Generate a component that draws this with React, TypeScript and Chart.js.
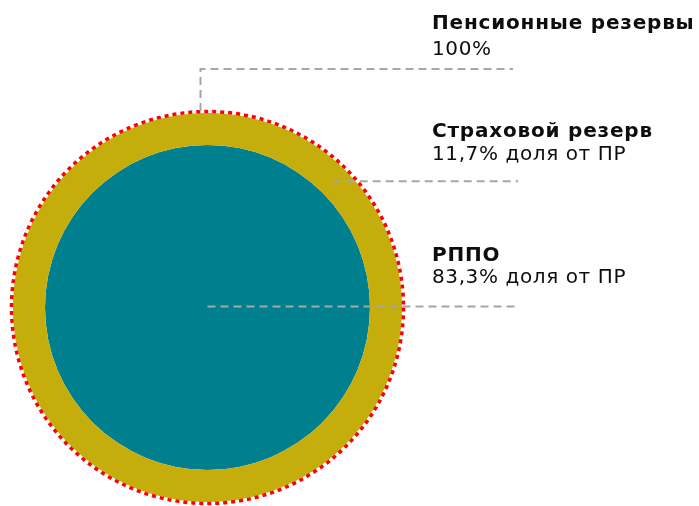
import React, { useEffect, useRef } from "react";
import { Chart, registerables } from "chart.js";

Chart.register(...registerables);

// ---- data ----
const categories = ["Пенсионные резервы", "Страховой резерв", "РППО"];
const shareLabels = ["100%", "11,7% доля от ПР", "83,3% доля от ПР"];
const totalValues = [100]; // Пенсионные резервы (outer circle)
const rppoValues = [83.3]; // РППО (inner circle)

const GOLD = "#C5AE0C";
const TEAL = "#00808F";
const FONT = "'DejaVu Sans', sans-serif";

const annotate = {
  id: "annotate",
  afterDatasetsDraw(chart: any) {
    const ctx: any = chart.ctx;
    const outer: any = chart.getDatasetMeta(0).data[0];
    const inner: any = chart.getDatasetMeta(1).data[0];
    if (!outer || !inner) return;
    const cx = outer.x;
    const cy = outer.y;
    const R = outer.outerRadius;
    const r = inner.outerRadius;
    ctx.save();
    // dotted red border
    ctx.beginPath();
    ctx.arc(cx, cy, R + 1.5, 0, Math.PI * 2);
    ctx.strokeStyle = "#FF0000";
    ctx.lineWidth = 3.5;
    ctx.setLineDash([4, 4]);
    ctx.stroke();

    // leader lines
    ctx.strokeStyle = "#A6A6A6";
    ctx.lineWidth = 2;
    ctx.setLineDash([8, 5]);
    const lineEnd = 518;
    // 1: total
    const lx = cx - 7;
    ctx.beginPath();
    ctx.moveTo(lx, cy - R - 2);
    ctx.lineTo(lx, 69);
    ctx.lineTo(513, 69);
    ctx.stroke();
    // 2: ring
    const m = (R + r) / 2;
    const a = Math.PI / 4;
    ctx.beginPath();
    ctx.moveTo(cx + m * Math.cos(a), cy - m * Math.sin(a));
    ctx.lineTo(lineEnd, cy - m * Math.sin(a));
    ctx.stroke();
    // 3: center
    ctx.beginPath();
    ctx.moveTo(cx, cy - 1);
    ctx.lineTo(lineEnd, cy - 1);
    ctx.stroke();

    // texts
    ctx.setLineDash([]);
    ctx.fillStyle = "#0D0D0D";
    ctx.textAlign = "left";
    ctx.textBaseline = "alphabetic";
    const tx = 432;
    const rows = [
      [28.5, 55],
      [137, 160],
      [261, 282.5],
    ];
    categories.forEach((c, i) => {
      ctx.font = "bold 20px " + FONT;
      ctx.letterSpacing = "0.8px";
      ctx.fillText(c, tx, rows[i][0]);
      ctx.font = "20px " + FONT;
      ctx.letterSpacing = "0.6px";
      ctx.fillText(shareLabels[i], tx, rows[i][1]);
    });
    ctx.letterSpacing = "0px";
    ctx.restore();
  },
};

export default function App() {
  const ref = useRef<HTMLCanvasElement | null>(null);
  useEffect(() => {
    if (!ref.current) return;
    const chart = new Chart(ref.current, {
      type: "doughnut",
      data: {
        labels: [categories[0]],
        datasets: [
          {
            data: totalValues,
            backgroundColor: [GOLD],
            borderWidth: 0,
            hoverOffset: 0,
            offset: 0,
            weight: 32,
          } as any,
          {
            data: rppoValues,
            backgroundColor: [TEAL],
            borderWidth: 0,
            hoverOffset: 0,
            offset: 0,
            weight: 162.5,
          } as any,
        ],
      },
      options: {
        animation: false,
        responsive: true,
        maintainAspectRatio: false,
        cutout: 0,
        layout: { padding: { left: 13, top: 113, right: 297, bottom: 4 } },
        plugins: {
          legend: { display: false },
          tooltip: { enabled: false },
        },
        events: [],
      },
      plugins: [annotate],
    });
    return () => chart.destroy();
  }, []);
  return (
    <div style={{ position: "fixed", left: 0, top: 0, width: 699, height: 506, background: "#fff" }}>
      <canvas ref={ref} />
    </div>
  );
}
